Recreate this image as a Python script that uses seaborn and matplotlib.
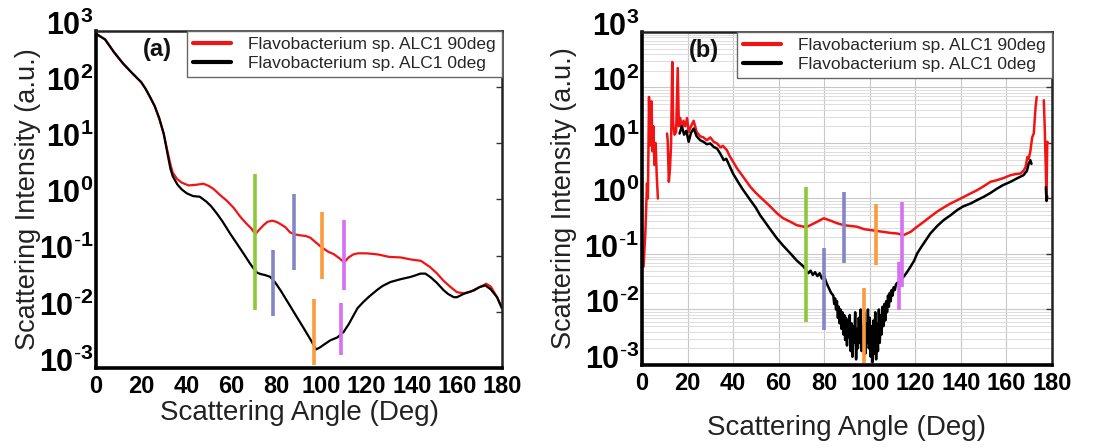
import numpy as np
import pandas as pd
import matplotlib
matplotlib.use("Agg")
import matplotlib.pyplot as plt
import matplotlib.transforms as mtransforms
import seaborn as sns
from matplotlib.ticker import LogLocator, FixedLocator, FuncFormatter, NullFormatter

sns.set_theme(style="white")
plt.rcParams['font.family'] = ['Liberation Sans', 'DejaVu Sans']
plt.rcParams['mathtext.fontset'] = 'custom'
plt.rcParams['mathtext.rm'] = 'Liberation Sans'
plt.rcParams['mathtext.bf'] = 'Liberation Sans:bold'

LABEL_90 = "Flavobacterium sp. ALC1 90deg"
LABEL_0 = "Flavobacterium sp. ALC1 0deg"

# ---------------- panel (a) data: angle (deg), intensity (a.u.) ----------------
a_red_angle = [0, 4, 8, 12, 16, 20, 22, 24, 26, 28, 30, 32, 33, 34, 36, 38, 41, 44, 47.6, 50,
               52, 55, 58, 61, 64, 67, 69, 70.6, 72, 74.3, 76, 78, 80, 82, 84, 86, 88, 90.5,
               93, 95, 97, 100, 103, 105.3, 108, 110, 112, 114, 116, 120, 125, 130, 135, 140,
               144, 148, 151, 154, 157, 160, 163, 166, 170, 173, 175, 177.8, 180]
a_red_val = [891, 708, 417, 263, 178, 123, 93, 66, 46, 28, 14.8, 6.3, 4.2, 3.0, 2.3, 2.0,
             1.78, 1.82, 1.91, 1.74, 1.55, 1.20, 0.95, 0.71, 0.49, 0.36, 0.30, 0.24, 0.28,
             0.35, 0.40, 0.42, 0.40, 0.36, 0.32, 0.26, 0.24, 0.23, 0.224, 0.209, 0.178,
             0.141, 0.117, 0.107, 0.089, 0.076, 0.093, 0.105, 0.110, 0.110, 0.105, 0.095,
             0.093, 0.085, 0.081, 0.063, 0.049, 0.036, 0.028, 0.0224, 0.0214, 0.0229,
             0.0275, 0.0316, 0.0282, 0.0182, 0.0115]

a_blk_angle = [0, 4, 8, 12, 16, 20, 22, 24, 26, 28, 30, 32, 33, 34, 36, 38, 40.2, 43, 46, 49,
               51, 53.6, 56, 59.5, 62, 64, 66, 68.3, 70, 71.3, 73, 75, 77.2, 79, 80.2, 82,
               84.6, 87, 89, 91, 93.5, 95.5, 97.5, 99.4, 101, 103.8, 107, 109.8, 112, 114.2,
               116, 118.6, 121, 124.6, 127, 130.5, 134.9, 139.3, 141, 143.8, 146, 148.2, 151,
               154, 156, 158.6, 160, 163, 167.5, 170, 172.6, 175, 177.8, 180]
a_blk_val = [891, 708, 417, 263, 178, 123, 93, 66, 46, 28, 14.8, 5.6, 3.5, 2.6, 1.86, 1.51,
             1.29, 1.15, 1.12, 0.91, 0.76, 0.56, 0.41, 0.245, 0.174, 0.132, 0.100, 0.072,
             0.058, 0.050, 0.047, 0.045, 0.042, 0.035, 0.030, 0.0234, 0.0158, 0.011,
             0.0081, 0.0060, 0.0041, 0.0030, 0.00214, 0.00234, 0.0026, 0.0031, 0.0035,
             0.0044, 0.0060, 0.0087, 0.0117, 0.0151, 0.0186, 0.0245, 0.0288, 0.0339, 0.038,
             0.0417, 0.0437, 0.0479, 0.0479, 0.0417, 0.0331, 0.0245, 0.0209, 0.0182, 0.0182,
             0.0209, 0.024, 0.0275, 0.0295, 0.0251, 0.0182, 0.0115]

# marker bars of panel (a): angle, lower, upper
a_bar_angle = [70.6, 78.4, 87.6, 100.3, 96.7, 110.0, 108.7]
a_bar_low = [0.0107, 0.0083, 0.055, 0.039, 0.00112, 0.024, 0.0017]
a_bar_high = [2.9, 0.126, 1.26, 0.59, 0.0166, 0.427, 0.0145]
a_bar_color = ['#8cc83a', '#8585c5', '#8585c5', '#fb9b3c', '#fb9b3c', '#d66ff0', '#d66ff0']

# ---------------- panel (b) data ----------------
b_red1_angle = [0.7, 1.5, 2.2, 2.6, 3.1, 3.4, 3.8, 4.2, 4.6, 5.0, 5.5, 6.0, 6.5, 7.0]
b_red1_val = [0.059, 0.25, 1.86, 1.0, 67.6, 8.9, 11.2, 56.2, 7.1, 20.0, 4.0, 10.0, 2.5, 1.0]

b_red2_angle = [11.0, 11.3, 11.8, 12.3, 12.8, 13.3, 13.7, 14.3, 15.0, 15.7, 16.2, 16.8, 17.5,
                18.2, 19.0, 19.8, 20.5, 21.5, 22.7, 24, 25.6, 27, 28.5, 30, 31.5, 33, 34.5,
                35.5, 37.3, 38.5, 40, 41.7, 44, 46, 47.6, 50, 53.4, 56, 59.3, 62, 65.2, 68,
                71, 72.5, 73.9, 76.9, 79.8, 82.7, 85.5, 88.6, 91.5, 94.4, 97.5, 100.3, 103,
                106.1, 109, 112, 114.9, 117.9, 120.8, 123.7, 126.6, 129.6, 132.5, 135.4,
                138.4, 141.3, 144.2, 147.1, 150, 153, 155.9, 158.8, 161.8, 164, 166.2, 167.5,
                168.4, 169.2, 169.8, 170.5, 171.3, 172, 172.8, 173.3]
b_red2_val = [14.8, 11.2, 2.0, 3.5, 10.0, 288, 22.4, 14.1, 15.8, 224, 20.0, 28.2, 17.8, 25.1,
              20.0, 28.2, 15.8, 20.0, 25.1, 15.8, 13.2, 12.6, 11.2, 12.6, 10.5, 9.8, 8.3,
              8.9, 7.4, 5.8, 4.6, 3.5, 2.6, 2.0, 1.62, 1.26, 0.93, 0.74, 0.54, 0.44, 0.38,
              0.33, 0.31, 0.31, 0.33, 0.38, 0.44, 0.40, 0.36, 0.33, 0.32, 0.31, 0.28, 0.27,
              0.26, 0.25, 0.24, 0.234, 0.219, 0.25, 0.31, 0.38, 0.47, 0.58, 0.69, 0.81, 0.93,
              1.07, 1.23, 1.41, 1.66, 2.0, 2.14, 2.34, 2.63, 2.75, 2.82, 3.16, 3.7, 5.6, 5.2,
              7.1, 12.6, 14.8, 44.7, 67.6]

b_red3_angle = [176.4, 176.8, 177.3, 177.6, 177.9, 178.2]
b_red3_val = [58.9, 20.0, 3.2, 1.0, 10.5, 10.0]

b_blk_angle = [16.5, 17.5, 18.5, 19.5, 20.5, 21.5, 22.7, 24, 25.6, 27, 28.5, 30, 31.5, 33,
               34.5, 35.9, 37, 38.5, 40, 41.7, 44, 46, 47.6, 50, 52, 53.4, 56, 59.3, 62,
               65.2, 68, 71, 72.0, 73.0, 74.0, 75.0, 76.0, 77.0, 78.0, 79.0, 80.0, 81.0, 82.0,
               83.0, 84.0, 84.4, 84.8, 85.2, 85.6, 86.0, 86.4, 86.8, 87.2, 87.6, 88.0, 88.4,
               88.8, 89.2, 89.6, 90.0, 90.4, 90.8, 91.2, 91.6, 92.0, 92.4, 92.8, 93.2, 93.6,
               94.0, 94.4, 94.8, 95.2, 95.6, 96.0, 96.4, 96.8, 97.2, 97.6, 98.0, 98.4, 98.8,
               99.2, 99.6, 100.0, 100.4, 100.8, 101.2, 101.6, 102.0, 102.4, 102.8, 103.2,
               103.6, 104.0, 104.4, 104.8, 105.2, 105.6, 106.0, 106.4, 106.8, 107.2, 107.6,
               108.0, 108.4, 108.8, 109.2, 109.6, 110.0, 110.5, 111.0, 111.5, 112, 113,
               114.9, 116.5, 117.9, 119.5, 120.8, 123, 126.6, 129.5, 132.5, 135.5, 138.4,
               141, 144.2, 147, 150, 153, 155.9, 158.5, 161.8, 164.5, 167.5, 169, 169.8,
               170.5, 171]
b_blk_val = [14.8, 20.0, 14.1, 16.6, 10.5, 15.1, 18.2, 13.2, 11.2, 10.5, 9.5, 9.8, 8.5, 7.9,
             6.3, 4.9, 5.2, 3.8, 2.8, 2.14, 1.51, 1.15, 0.93, 0.68, 0.49, 0.41, 0.29, 0.19,
             0.141, 0.102, 0.076, 0.059, 0.051, 0.045, 0.050, 0.042, 0.047, 0.040, 0.045,
             0.036, 0.040, 0.030, 0.0245, 0.0200, 0.0178, 0.0126, 0.0158, 0.0100, 0.0141,
             0.00708, 0.0112, 0.00562, 0.0100, 0.00447, 0.00891, 0.00355, 0.00794, 0.00282,
             0.00708, 0.00224, 0.00631, 0.00316, 0.00794, 0.00178, 0.00562, 0.00141, 0.00501,
             0.00251, 0.00891, 0.00126, 0.00447, 0.00200, 0.00708, 0.00251, 0.0100, 0.00178,
             0.00501, 0.00282, 0.00891, 0.00158, 0.00562, 0.00251, 0.0100, 0.00200, 0.00708,
             0.00141, 0.00501, 0.00112, 0.00631, 0.00158, 0.00891, 0.00126, 0.00562, 0.00178,
             0.0100, 0.00251, 0.00794, 0.00355, 0.0112, 0.00501, 0.0126, 0.00631, 0.0141,
             0.00891, 0.0178, 0.0112, 0.0200, 0.0141, 0.0224, 0.0178, 0.0251, 0.0224, 0.0282,
             0.030, 0.032, 0.039, 0.048, 0.059, 0.076, 0.102, 0.141, 0.234, 0.316, 0.41, 0.50,
             0.62, 0.72, 0.81, 0.93, 1.07, 1.26, 1.51, 1.74, 2.0, 2.29, 2.63, 3.16, 4.27,
             4.9, 4.2]

b_blk2_angle = [177.3, 177.6, 177.9]
b_blk2_val = [1.6, 0.9, 1.1]

b_bar_angle = [72.2, 80.1, 88.6, 102.8, 97.4, 114.3, 112.9]
b_bar_low = [0.006, 0.0043, 0.068, 0.063, 0.00107, 0.0257, 0.0098]
b_bar_high = [1.62, 0.126, 1.32, 0.79, 0.024, 0.87, 0.072]
b_bar_color = ['#8cc83a', '#8585c5', '#8585c5', '#fb9b3c', '#fb9b3c', '#d66ff0', '#d66ff0']

x_ticks = [0, 20, 40, 60, 80, 100, 120, 140, 160, 180]
y_decades = [1e-3, 1e-2, 1e-1, 1e0, 1e1, 1e2, 1e3]

RED = '#f01414'
BLACK = '#000000'


def decade_fmt(v, pos):
    e = int(round(np.log10(v)))
    if e < 0:
        return r'$\mathbf{10}^{\mathbf{\text{-}%d}}$' % (-e)
    return r'$\mathbf{10}^{\mathbf{%d}}$' % e


def style_axes(ax, grid):
    ax.set_yscale('log')
    ax.set_xlim(0, 180)
    ax.set_ylim(1e-3, 1e3)
    ax.xaxis.set_major_locator(FixedLocator(x_ticks))
    ax.yaxis.set_major_locator(FixedLocator(y_decades))
    ax.yaxis.set_major_formatter(FuncFormatter(decade_fmt))
    ax.yaxis.set_minor_locator(LogLocator(base=10, subs=np.arange(2, 10), numticks=20))
    ax.yaxis.set_minor_formatter(NullFormatter())
    ax.tick_params(axis='both', which='major', direction='in', length=4, width=1,
                   top=False, right=True, colors='#333333', labelcolor='black')
    ax.tick_params(axis='y', which='minor', left=False, right=False)
    ax.tick_params(axis='y', labelsize=22, pad=2)
    ax.tick_params(axis='x', labelsize=17, pad=5)
    for lab in ax.get_xticklabels():
        lab.set_fontweight('bold')
    for side in ['left', 'bottom']:
        ax.spines[side].set_linewidth(2.6)
        ax.spines[side].set_color('black')
    for side in ['top', 'right']:
        ax.spines[side].set_linewidth(1.8)
        ax.spines[side].set_color('#222222')
    if grid:
        ax.grid(True, which='major', axis='both', color='#c8c8c8', linewidth=0.8)
        ax.grid(True, which='minor', axis='y', color='#dddddd', linewidth=0.7)
        ax.set_axisbelow(True)
    ax.set_xlabel('Scattering Angle (Deg)', fontsize=20, color='#222222')
    ax.set_ylabel('Scattering Intensity (a.u.)', fontsize=19.5, color='#222222')


fig = plt.figure(figsize=(10.94, 4.48), dpi=100)
ax1 = fig.add_axes([0.0878, 0.1786, 0.3711, 0.7522])
ax2 = fig.add_axes([0.5868, 0.1853, 0.3748, 0.7433])

# ---- panel (a)
df_ar = pd.DataFrame({'angle': a_red_angle, 'I': a_red_val})
df_ab = pd.DataFrame({'angle': a_blk_angle, 'I': a_blk_val})
sns.lineplot(data=df_ar, x='angle', y='I', ax=ax1, color=RED, linewidth=1.6,
             label=LABEL_90, sort=False, estimator=None)
sns.lineplot(data=df_ab, x='angle', y='I', ax=ax1, color=BLACK, linewidth=1.6,
             label=LABEL_0, sort=False, estimator=None)
ax1.vlines(a_bar_angle, a_bar_low, a_bar_high, colors=a_bar_color, linewidth=2.6, zorder=3)

# ---- panel (b)
sns.lineplot(x=b_red2_angle, y=b_red2_val, ax=ax2, color=RED, linewidth=1.8,
             label=LABEL_90, sort=False, estimator=None)
sns.lineplot(x=b_blk_angle, y=b_blk_val, ax=ax2, color=BLACK, linewidth=1.8,
             label=LABEL_0, sort=False, estimator=None)
sns.lineplot(x=b_red1_angle, y=b_red1_val, ax=ax2, color=RED, linewidth=1.8,
             sort=False, estimator=None)
sns.lineplot(x=b_red3_angle, y=b_red3_val, ax=ax2, color=RED, linewidth=1.8,
             sort=False, estimator=None)
sns.lineplot(x=b_blk2_angle, y=b_blk2_val, ax=ax2, color=BLACK, linewidth=1.8,
             sort=False, estimator=None)
ax2.vlines(b_bar_angle, b_bar_low, b_bar_high, colors=b_bar_color, linewidth=2.6, zorder=3)

for ax, grid, tag in [(ax1, False, '(a)'), (ax2, True, '(b)')]:
    style_axes(ax, grid)
    ax.text(0.15, 0.945, tag, transform=ax.transAxes, fontsize=17, fontweight='bold',
            ha='center', va='center', color='#111111')
    h, l = ax.get_legend_handles_labels()
    leg = ax.legend(h[:2], l[:2], loc='upper right', borderaxespad=0, fontsize=12.5,
                    frameon=True, fancybox=False, edgecolor='#666666', framealpha=1,
                    handlelength=2.2, handletextpad=1.0, borderpad=0.35, labelspacing=0.2)
    leg.get_frame().set_linewidth(1.0)
    for line in leg.get_lines():
        line.set_linewidth(3)
    # raise the decade labels a little so the mantissa sits on the tick
    offset = mtransforms.ScaledTranslation(0, 6 / 72, fig.dpi_scale_trans)
    for lab in ax.get_yticklabels():
        lab.set_transform(lab.get_transform() + offset)

ax1.yaxis.set_label_coords(-0.135, 0.5)
ax2.yaxis.set_label_coords(-0.158, 0.5)
ax1.xaxis.set_label_coords(0.5, -0.095)
ax2.xaxis.set_label_coords(0.5, -0.15)

fig.savefig('out.png', dpi=100)
